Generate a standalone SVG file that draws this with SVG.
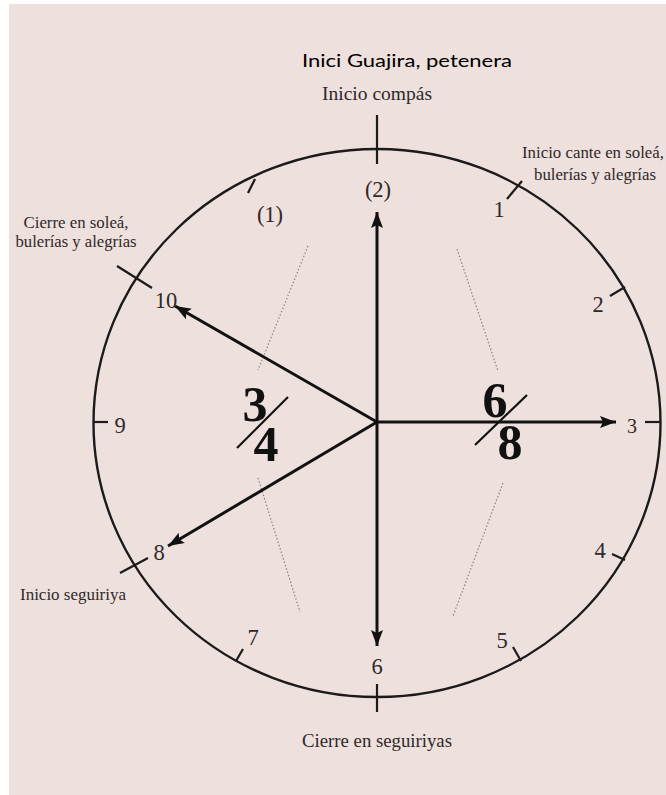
<svg xmlns="http://www.w3.org/2000/svg" width="666" height="795" viewBox="0 0 666 795">
<defs>
<style>
.lbl{font-family:"Liberation Serif","DejaVu Serif",serif;fill:#2e292b;}
.num{font-size:22.5px;text-anchor:middle;}
.cap{font-size:16.5px;}
.frac{font-family:"Liberation Serif","DejaVu Serif",serif;font-weight:bold;font-size:50px;fill:#111;text-anchor:middle;}
.tick{stroke:#1c1a1b;stroke-width:2.2;fill:none;}
.arr{stroke:#111;stroke-width:3;fill:none;}
.dot{stroke:#8a8283;stroke-width:1.2;stroke-dasharray:1.5 2;fill:none;}
</style>
<marker id="ah" markerUnits="userSpaceOnUse" markerWidth="18" markerHeight="14" refX="16" refY="7" orient="auto">
<path d="M0,1 L16,7 L0,13 L3,7 Z" fill="#111"/>
</marker>
</defs>
<rect x="0" y="0" width="666" height="795" fill="#ffffff"/>
<rect x="9" y="4" width="657" height="791" fill="#eee0dc"/>

<g id="dial">
<ellipse cx="377" cy="423" rx="283.5" ry="274" fill="none" stroke="#1c1a1b" stroke-width="2.4"/>
</g>

<g id="ticks">
<line class="tick" x1="377" y1="115" x2="377" y2="164"/>
<line class="tick" x1="507" y1="199" x2="522" y2="181"/>
<line class="tick" x1="610" y1="296" x2="625" y2="287"/>
<line class="tick" x1="645" y1="422" x2="661" y2="422"/>
<line class="tick" x1="612" y1="554" x2="625" y2="560"/>
<line class="tick" x1="513" y1="647" x2="521" y2="661"/>
<line class="tick" x1="377" y1="684" x2="377" y2="712"/>
<line class="tick" x1="243" y1="649" x2="236" y2="661"/>
<line class="tick" x1="148" y1="558" x2="120" y2="573"/>
<line class="tick" x1="108" y1="422" x2="93" y2="422"/>
<line class="tick" x1="152" y1="288" x2="117" y2="266"/>
<line class="tick" x1="248" y1="193" x2="255" y2="179"/>
</g>

<g id="guides">
<line class="dot" x1="308" y1="246" x2="258" y2="370"/>
<line class="dot" x1="258" y1="478" x2="300" y2="612"/>
<line class="dot" x1="457" y1="249" x2="498" y2="371"/>
<line class="dot" x1="503" y1="483" x2="453" y2="616"/>
</g>

<g id="connectors">
<line class="arr" x1="377" y1="422" x2="377" y2="212" marker-end="url(#ah)"/>
<line class="arr" x1="377" y1="422" x2="377" y2="646" marker-end="url(#ah)"/>
<line class="arr" x1="377" y1="422" x2="616" y2="422" marker-end="url(#ah)"/>
<line class="arr" x1="377" y1="422" x2="175" y2="306" marker-end="url(#ah)"/>
<line class="arr" x1="377" y1="422" x2="168" y2="546" marker-end="url(#ah)"/>
</g>

<g id="numbers">
<text class="lbl num" x="378" y="197">(2)</text>
<text class="lbl num" x="499" y="217">1</text>
<text class="lbl num" x="598" y="312">2</text>
<text class="lbl num" x="632" y="433" style="font-size:20px">3</text>
<text class="lbl num" x="600" y="558">4</text>
<text class="lbl num" x="502" y="648">5</text>
<text class="lbl num" x="377" y="674">6</text>
<text class="lbl num" x="253" y="645">7</text>
<text class="lbl num" x="159" y="560">8</text>
<text class="lbl num" x="120" y="433">9</text>
<text class="lbl num" x="166" y="308">10</text>
<text class="lbl num" x="270" y="222">(1)</text>
</g>

<g id="fraction-34">
<text class="frac" x="255" y="421">3</text>
<text class="frac" x="266" y="461">4</text>
<line x1="237" y1="448" x2="288" y2="397" stroke="#111" stroke-width="2.2"/>
</g>
<g id="fraction-68">
<text class="frac" x="495" y="417">6</text>
<text class="frac" x="510" y="459">8</text>
<line x1="475" y1="445" x2="527" y2="395" stroke="#111" stroke-width="2.2"/>
</g>

<g id="captions">
<text x="407" y="67" style="font-family:Lato,'Open Sans','Liberation Sans',sans-serif;font-size:18px;fill:#000;text-anchor:middle" textLength="210" lengthAdjust="spacingAndGlyphs">Inici Guajira, petenera</text>
<text class="lbl" x="377" y="100" text-anchor="middle" style="font-size:18px" textLength="110" lengthAdjust="spacingAndGlyphs">Inicio compás</text>
<text class="lbl cap" x="593" y="158" text-anchor="middle" textLength="142" lengthAdjust="spacingAndGlyphs">Inicio cante en soleá,</text>
<text class="lbl cap" x="595" y="180" text-anchor="middle" textLength="122" lengthAdjust="spacingAndGlyphs">bulerías y alegrías</text>
<text class="lbl cap" x="76" y="228" text-anchor="middle" textLength="105" lengthAdjust="spacingAndGlyphs">Cierre en soleá,</text>
<text class="lbl cap" x="76" y="247" text-anchor="middle" textLength="121" lengthAdjust="spacingAndGlyphs">bulerías y alegrías</text>
<text class="lbl cap" x="20" y="600" textLength="106" lengthAdjust="spacingAndGlyphs">Inicio seguiriya</text>
<text class="lbl" x="377" y="747" text-anchor="middle" style="font-size:18px" textLength="150" lengthAdjust="spacingAndGlyphs">Cierre en seguiriyas</text>
</g>
</svg>
